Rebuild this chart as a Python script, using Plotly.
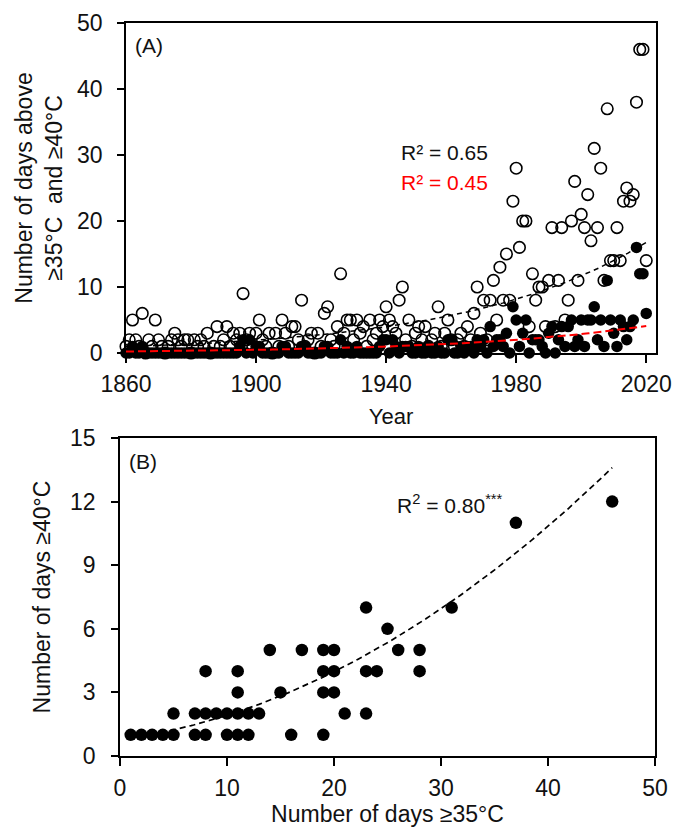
import numpy as np
import plotly.graph_objects as go

# ---------------- data ----------------
years = list(range(1860, 2021))

# Panel A: number of days >= 35 C per year (open circles)
days35 = [
    1, 2, 5, 2, 1, 6, 0, 2, 1, 5,        # 1860s
    2, 1, 0, 1, 2, 3, 2, 1, 2, 2,        # 1870s
    0, 2, 1, 2, 1, 3, 0, 1, 4, 1,        # 1880s
    2, 4, 1, 3, 2, 3, 9, 2, 3, 1,        # 1890s
    3, 5, 2, 1, 3, 0, 3, 1, 5, 3,        # 1900s
    1, 4, 4, 2, 8, 1, 2, 3, 0, 3,        # 1910s
    1, 6, 7, 2, 1, 4, 12, 3, 5, 5,       # 1920s
    2, 5, 3, 4, 1, 5, 2, 3, 5, 4,        # 1930s
    7, 5, 4, 3, 8, 10, 2, 5, 1, 3,       # 1940s
    4, 2, 4, 1, 2, 3, 7, 1, 3, 5,        # 1950s
    2, 1, 2, 3, 1, 4, 2, 6, 10, 3,       # 1960s
    8, 2, 8, 11, 5, 13, 8, 15, 8, 23,    # 1970s
    28, 16, 20, 20, 4, 12, 8, 10, 10, 4, # 1980s
    11, 19, 4, 11, 19, 5, 8, 20, 26, 11, # 1990s
    21, 19, 24, 17, 31, 19, 28, 11, 37, 14,  # 2000s
    14, 19, 14, 23, 25, 23, 24, 38, 46, 46,  # 2010s
    14,                                  # 2020
]

# Panel A: number of days >= 40 C per year (filled circles)
days40 = [
    0, 0, 1, 0, 0, 1, 0, 0, 0, 0,
    0, 0, 0, 0, 0, 0, 0, 0, 0, 0,
    0, 0, 0, 0, 0, 0, 0, 0, 0, 0,
    0, 0, 0, 0, 0, 1, 2, 0, 2, 0,
    1, 1, 0, 0, 0, 0, 0, 0, 1, 1,
    0, 0, 0, 0, 1, 1, 0, 0, 0, 0,
    0, 1, 1, 0, 0, 0, 2, 0, 1, 0,
    0, 1, 0, 0, 0, 0, 0, 0, 1, 2,
    2, 0, 2, 1, 0, 1, 1, 1, 0, 0,
    1, 0, 0, 1, 0, 0, 1, 0, 0, 2,
    2, 0, 0, 1, 0, 1, 1, 0, 2, 1,
    2, 0, 4, 1, 2, 2, 1, 3, 0, 7,
    5, 1, 3, 5, 0, 2, 2, 2, 1, 0,
    3, 4, 0, 2, 4, 1, 4, 5, 1, 2,
    5, 1, 5, 5, 7, 2, 5, 1, 11, 5,
    3, 1, 5, 4, 2, 4, 5, 16, 12, 12,
    6,
]

# exponential trend coefficients y = a * exp(b * (year - 1860))
trend35_a, trend35_b = 0.94, 0.018
trend40_a, trend40_b = 0.23, 0.018

# Panel B: days >= 35 C vs days >= 40 C
b_days35 = [1, 2, 3, 4, 5, 7, 8, 10, 11, 12, 16, 19,
            5, 7, 8, 9, 10, 11, 12, 13, 21, 23,
            11, 15, 19, 20,
            8, 11, 19, 20, 23, 24, 28,
            14, 17, 19, 20, 26, 28,
            25,
            23, 31,
            37,
            46]
b_days40 = [1, 1, 1, 1, 1, 1, 1, 1, 1, 1, 1, 1,
            2, 2, 2, 2, 2, 2, 2, 2, 2, 2,
            3, 3, 3, 3,
            4, 4, 4, 4, 4, 4, 4,
            5, 5, 5, 5, 5, 5,
            6,
            7, 7,
            11,
            12]
# polynomial trend y = c0 + c1 x + c2 x^2
b_fit_c0, b_fit_c1, b_fit_c2 = 0.772, 0.0688, 0.004567

a_xticks = [1860, 1900, 1940, 1980, 2020]
a_yticks = [0, 10, 20, 30, 40, 50]
b_xticks = [0, 10, 20, 30, 40, 50]
b_yticks = [0, 3, 6, 9, 12, 15]

# ---------------- figure ----------------
W, H = 673, 827
FONT = "Liberation Sans, Arial, Helvetica, sans-serif"
TICK_SIZE = 23
TITLE_SIZE = 23
TEXT_SIZE = 21
INK = "#111"


def fx(p):
    return p / W


def fy(p):
    return 1 - p / H


t = np.linspace(1860, 2020, 200)
xb = np.linspace(min(b_days35), max(b_days35), 200)

fig = go.Figure()
fig.add_trace(go.Scatter(
    x=years, y=days35, mode="markers", name="≥35°C",
    marker=dict(symbol="circle-open", size=11.5, color="black",
                line=dict(width=1.6, color="black")),
    cliponaxis=False, xaxis="x", yaxis="y"))
fig.add_trace(go.Scatter(
    x=years, y=days40, mode="markers", name="≥40°C",
    marker=dict(symbol="circle", size=11.5, color="black"),
    cliponaxis=False, xaxis="x", yaxis="y"))
fig.add_trace(go.Scatter(
    x=t, y=trend35_a * np.exp(trend35_b * (t - 1860)), mode="lines",
    line=dict(color="black", width=1.5, dash="5px,4px"),
    xaxis="x", yaxis="y", name="trend ≥35°C"))
fig.add_trace(go.Scatter(
    x=t, y=trend40_a * np.exp(trend40_b * (t - 1860)), mode="lines",
    line=dict(color="#ff0000", width=2, dash="8px,4px"),
    xaxis="x", yaxis="y", name="trend ≥40°C"))

fig.add_trace(go.Scatter(
    x=b_days35, y=b_days40, mode="markers", name="B",
    marker=dict(symbol="circle", size=12.5, color="black"),
    cliponaxis=False, xaxis="x2", yaxis="y2"))
fig.add_trace(go.Scatter(
    x=xb, y=b_fit_c0 + b_fit_c1 * xb + b_fit_c2 * xb ** 2, mode="lines",
    line=dict(color="black", width=1.7, dash="6px,4px"),
    xaxis="x2", yaxis="y2", name="fit B"))

axis_common = dict(
    showline=True, linewidth=1.6, linecolor="black", mirror=True,
    ticks="outside", tickwidth=1.6, tickcolor="black",
    showgrid=False, zeroline=False, automargin=False,
    tickfont=dict(family=FONT, size=TICK_SIZE, color=INK),
)
title_font = dict(family=FONT, size=TITLE_SIZE, color=INK)

fig.update_layout(
    width=W, height=H,
    margin=dict(l=0, r=0, t=0, b=0),
    paper_bgcolor="white", plot_bgcolor="white",
    showlegend=False,
    font=dict(family=FONT, size=TEXT_SIZE, color=INK),
    xaxis=dict(domain=[fx(126), fx(656)], range=[1860, 2023],
               tickvals=a_xticks, ticklen=8, ticklabelstandoff=2,
               anchor="y",
               title=dict(text="Year", standoff=12,
                          font=dict(family=FONT, size=22, color=INK)),
               **axis_common),
    yaxis=dict(domain=[fy(353), fy(23)], range=[0, 50],
               tickvals=a_yticks, ticklen=7, ticklabelstandoff=10,
               anchor="x",
               title=dict(text="Number of days above<br>≥35°C\u00a0 and ≥40°C",
                          standoff=8, font=title_font),
               **axis_common),
    xaxis2=dict(domain=[fx(120), fx(655)], range=[0, 50],
                tickvals=b_xticks, ticklen=8, ticklabelstandoff=3,
                anchor="y2",
                title=dict(text="Number of days ≥35°C", standoff=13,
                           font=title_font),
                **axis_common),
    yaxis2=dict(domain=[fy(756), fy(438)], range=[0, 15],
                tickvals=b_yticks, ticklen=7, ticklabelstandoff=11,
                anchor="x2",
                title=dict(text="Number of days ≥40°C", standoff=13,
                           font=title_font),
                **axis_common),
    annotations=[
        dict(text="(A)", x=fx(133), y=fy(45), xref="paper", yref="paper",
             xanchor="left", yanchor="middle", showarrow=False,
             font=dict(family=FONT, size=TEXT_SIZE, color=INK)),
        dict(text="R² = 0.65", x=fx(399), y=fy(152), xref="paper", yref="paper",
             xanchor="left", yanchor="middle", showarrow=False,
             font=dict(family=FONT, size=TEXT_SIZE, color=INK)),
        dict(text="R² = 0.45", x=fx(399), y=fy(182), xref="paper", yref="paper",
             xanchor="left", yanchor="middle", showarrow=False,
             font=dict(family=FONT, size=TEXT_SIZE, color="#ff0000")),
        dict(text="(B)", x=fx(127), y=fy(461), xref="paper", yref="paper",
             xanchor="left", yanchor="middle", showarrow=False,
             font=dict(family=FONT, size=TEXT_SIZE, color=INK)),
        dict(text="R<sup>2</sup> = 0.80<sup>***</sup>", x=fx(395), y=fy(504),
             xref="paper", yref="paper",
             xanchor="left", yanchor="middle", showarrow=False,
             font=dict(family=FONT, size=TEXT_SIZE, color=INK)),
    ],
)

fig.write_html("out.html")
